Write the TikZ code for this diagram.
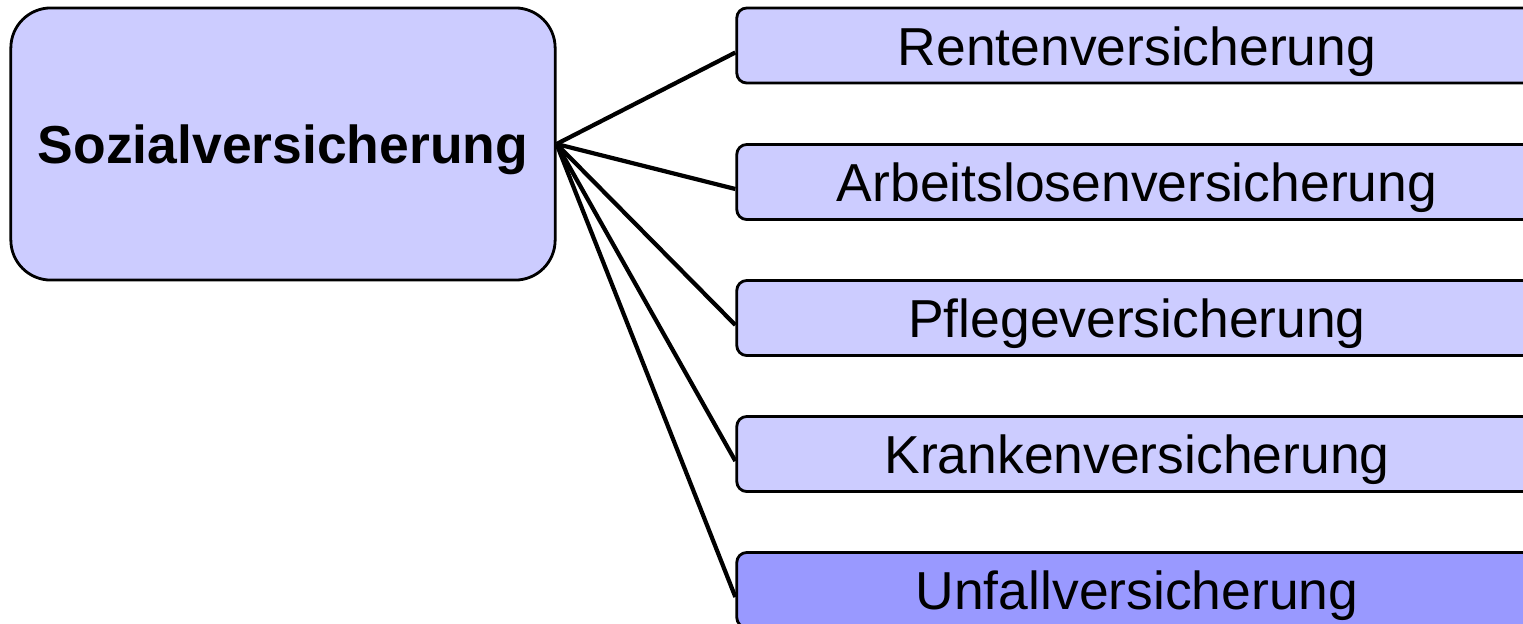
\documentclass[tikz,border=0pt]{standalone}
\usepackage{fontspec}
\setmainfont{Liberation Sans}
\definecolor{boxlight}{HTML}{CCCCFF}
\definecolor{boxdark}{HTML}{9999FF}
\tikzset{
    mainbox/.style={draw=black,line width=0.8pt,fill=boxlight,rounded corners=0.4cm,
        minimum width=5.44cm,minimum height=2.72cm,inner sep=0pt,
        text height=0.45cm,text depth=0.06cm,
        font=\fontsize{15.2}{18}\selectfont\bfseries},
    branchbox/.style={draw=black,line width=0.8pt,fill=boxlight,rounded corners=0.1cm,
        minimum width=8cm,minimum height=0.75cm,inner sep=0pt,
        text height=0.45cm,text depth=0.06cm,
        font=\fontsize{15.2}{18}\selectfont},
    branch/.style={line width=1.2pt,black}
}
\begin{document}
\begin{tikzpicture}[x=0.01cm,y=-0.01cm]
    \clip (0,0) rectangle (1523,624);
    \useasboundingbox (0,0) rectangle (1523,624);

    % root
    \node[mainbox] (sozial) at (283,144) {Sozialversicherung};

    % branches
    \node[branchbox] (rente) at (1137,45.5) {Rentenversicherung};
    \node[branchbox] (arbeit) at (1137,182) {Arbeitslosenversicherung};
    \node[branchbox] (pflege) at (1137,318) {Pflegeversicherung};
    \node[branchbox] (kranken) at (1137,454) {Krankenversicherung};
    \node[branchbox,fill=boxdark] (unfall) at (1137,590) {Unfallversicherung};

    % connectors
    \draw[branch] (sozial.east) -- ([yshift=-0.07cm]rente.west);
    \draw[branch] (sozial.east) -- ([yshift=-0.07cm]arbeit.west);
    \draw[branch] (sozial.east) -- ([yshift=-0.07cm]pflege.west);
    \draw[branch] (sozial.east) -- ([yshift=-0.07cm]kranken.west);
    \draw[branch] (sozial.east) -- ([yshift=-0.07cm]unfall.west);
\end{tikzpicture}
\end{document}
